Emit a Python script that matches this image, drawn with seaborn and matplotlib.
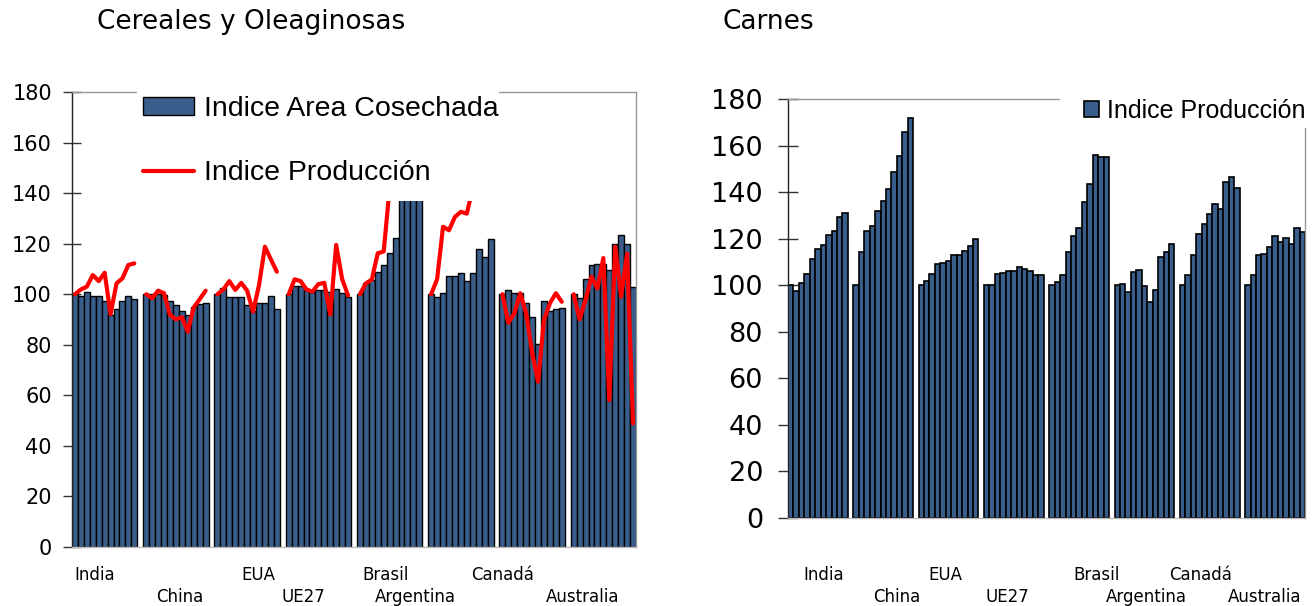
import pandas as pd
import seaborn as sns
import matplotlib.pyplot as plt
from matplotlib.patches import Rectangle

# Countries and years (11 years per country)
countries = ['India', 'China', 'EUA', 'UE27', 'Brasil', 'Argentina', 'Canadá', 'Australia']
years = list(range(2000, 2011))

# Cereales y Oleaginosas - Indice Area Cosechada (bars)
area_india = [100, 99.4, 101, 99.4, 99.4, 97.4, 91.8, 94.3, 97.4, 99.4, 98.1]
area_china = [100, 100, 100, 99.5, 97.4, 95.7, 93.5, 91.8, 95.1, 96.1, 96.6]
area_eua = [100, 102.3, 98.8, 98.8, 98.8, 95.7, 93.5, 96.6, 96.6, 99.4, 94.1]
area_ue27 = [100, 103.2, 103.2, 101.7, 100.7, 101.7, 101.7, 100.7, 101.9, 100.4, 98.8]
area_brasil = [100, 104.3, 105.6, 108.9, 111.6, 116.2, 122.4, 139, 142, 147, 150]
area_argentina = [100, 99, 100.4, 107.3, 107.3, 108.3, 105.2, 108.3, 117.8, 114.6, 121.7]
area_canada = [100, 101.6, 100.6, 100.3, 96.7, 91.1, 80.2, 97.4, 93.3, 94.0, 94.4]
area_australia = [100, 98.5, 106.2, 111.4, 112.1, 112.1, 109.7, 120, 123.3, 120, 102.9]

# Cereales y Oleaginosas - Indice Produccion (line)
prod_india = [100, 101.9, 103, 107.6, 105.2, 108.5, 92.1, 104.3, 106.3, 111.6, 112.2]
prod_china = [100, 98.4, 101.4, 100.4, 91.8, 90.1, 90.9, 85.2, 94.8, 98, 101.4]
prod_eua = [100, 101.9, 105.2, 101.7, 104.5, 101.4, 93.1, 103.6, 118.8, 113.8, 108.9]
prod_ue27 = [100, 105.9, 105.2, 101.9, 101, 104, 104.5, 92, 119.5, 106, 99.5]
prod_brasil = [100, 104.3, 105.8, 116.2, 116.9, 142, 150, 158, 165, 170, 175]
prod_argentina = [100, 106, 126.7, 125.3, 130.6, 132.6, 131.9, 142, 150, 155, 160]
prod_canada = [100, 88.7, 92.4, 100.4, 92.4, 77, 65.4, 89.8, 96.4, 100.4, 97]
prod_australia = [100, 90.1, 97.7, 106.9, 102.3, 114.3, 58.1, 118.8, 99, 116, 48.9]

# Carnes - Indice Produccion (bars)
meat_india = [100, 97.6, 101.1, 104.7, 111.3, 115.7, 117.4, 121.7, 123.4, 129.4, 131.1]
meat_china = [100, 114.1, 123.4, 125.3, 132, 136.3, 141.5, 148.8, 155.5, 165.8, 171.7]
meat_eua = [100, 101.9, 104.7, 109, 109.7, 110.5, 113.1, 113.1, 114.8, 116.7, 120]
meat_ue27 = [100, 100, 104.7, 105.4, 106.2, 106.2, 108, 107.1, 106.2, 104.4, 104.4]
meat_brasil = [100, 101.4, 104.3, 114.4, 121.3, 124.7, 135.9, 143.6, 156, 155.2, 155.1]
meat_argentina = [100, 100.7, 97.1, 105.8, 106.6, 99.8, 92.9, 98.1, 112.1, 114.4, 117.9]
meat_canada = [100, 104.3, 112.9, 122.2, 126.4, 130.7, 135, 132.6, 144.5, 146.5, 141.9]
meat_australia = [100, 104.3, 112.9, 113.6, 116.3, 121.3, 118.7, 120.4, 117.9, 124.7, 123]

area = [area_india, area_china, area_eua, area_ue27, area_brasil, area_argentina, area_canada, area_australia]
prod = [prod_india, prod_china, prod_eua, prod_ue27, prod_brasil, prod_argentina, prod_canada, prod_australia]
meat = [meat_india, meat_china, meat_eua, meat_ue27, meat_brasil, meat_argentina, meat_canada, meat_australia]

# build long table + category order with an empty slot between countries
rows = []
order = []
for i, c in enumerate(countries):
    for j, y in enumerate(years):
        cat = f'{c} {y}'
        order.append(cat)
        rows.append({'cat': cat, 'group': c, 'area': area[i][j], 'prod': prod[i][j], 'meat': meat[i][j]})
    if i < len(countries) - 1:
        order.append(f'_gap{i}')
df = pd.DataFrame(rows)
df['pos'] = df['cat'].map({c: k for k, c in enumerate(order)})

W, H = 1314, 606
bar_color = '#3A5E8C'

sns.set_style('white')
plt.rcParams['font.family'] = ['DejaVu Sans']
plt.rcParams['text.color'] = 'black'
plt.rcParams['axes.labelcolor'] = 'black'

fig = plt.figure(figsize=(W / 100, H / 100), dpi=100)
ax1 = fig.add_axes([72 / W, 1 - 547 / H, 564 / W, 455 / H])
ax2 = fig.add_axes([788 / W, 1 - 518 / H, 517 / W, 419 / H])

# Left chart
sns.barplot(data=df, x='cat', y='area', order=order, width=1, color=bar_color, saturation=1,
            edgecolor='black', linewidth=1.0, ax=ax1, label='Indice Area Cosechada')
sns.lineplot(data=df, x='pos', y='prod', units='group', estimator=None, color='red', lw=3,
             ax=ax1, label='Indice Producción')

# Right chart
sns.barplot(data=df, x='cat', y='meat', order=order, width=1, color=bar_color, saturation=1,
            edgecolor='black', linewidth=1.2, ax=ax2, label='Indice Producción')

for ax, fs, ln, pd_ in [(ax1, 15, 13, 8), (ax2, 19.5, 14, 11)]:
    ax.set_xlim(-0.5, len(order) - 0.5)
    ax.set_ylim(0, 180)
    ax.set_yticks(range(0, 181, 20))
    ax.set_xticks([])
    ax.set_xlabel('')
    ax.set_ylabel('')
    ax.tick_params(axis='y', direction='inout', length=ln, width=1, colors='#333333',
                   labelcolor='black', labelsize=fs, pad=pd_, left=True)
    ax.spines['left'].set_color('#222222')
    ax.spines['top'].set_color('#999999')
    ax.spines['right'].set_color('#999999')
    ax.spines['bottom'].set_color('#BBBBBB')
    for s in ax.spines.values():
        s.set_linewidth(1)

# white legend areas covering top of plot
ax1.add_patch(Rectangle((0.115, 0.76), 0.642, 0.3, transform=ax1.transAxes, facecolor='white',
                        edgecolor='none', zorder=4, clip_on=False))
ax2.add_patch(Rectangle((0.526, 0.931), 0.6, 0.2, transform=ax2.transAxes, facecolor='white',
                        edgecolor='none', zorder=4, clip_on=False))

h, l = ax1.get_legend_handles_labels()
uniq = dict(zip(l, h))
names = ['Indice Area Cosechada', 'Indice Producción']
ax1.legend([uniq[n] for n in names], names, loc='upper left', bbox_to_anchor=(0.101, 1.022),
           frameon=False, borderpad=0, handlelength=1.8, handleheight=0.6, handletextpad=0.35,
           labelspacing=1.34, labelcolor='black', prop={'family': 'Liberation Sans', 'size': 20.5})
ax2.legend(loc='upper left', bbox_to_anchor=(0.549, 1.031), frameon=False, borderpad=0,
           handlelength=0.6, handleheight=0.6, handletextpad=0.3, labelcolor='black',
           prop={'family': 'Liberation Sans', 'size': 18})

# titles
fig.text(97 / W, 1 - 22 / H, 'Cereales y Oleaginosas', fontsize=19, va='center', ha='left')
fig.text(722 / W, 1 - 22 / H, 'Carnes', fontsize=19, va='center', ha='left')

# country labels (staggered rows)
left_lbl_x = [95, 180, 258, 303, 386, 415, 503, 583]
right_lbl_x = [824, 897, 945, 1007, 1097, 1146, 1201, 1265]
for k, c in enumerate(countries):
    yy = 575 if k % 2 == 0 else 597
    fig.text(left_lbl_x[k] / W, 1 - yy / H, c, fontsize=12, ha='center', va='center')
    fig.text(right_lbl_x[k] / W, 1 - yy / H, c, fontsize=12, ha='center', va='center')

fig.savefig('out.png', dpi=100)
